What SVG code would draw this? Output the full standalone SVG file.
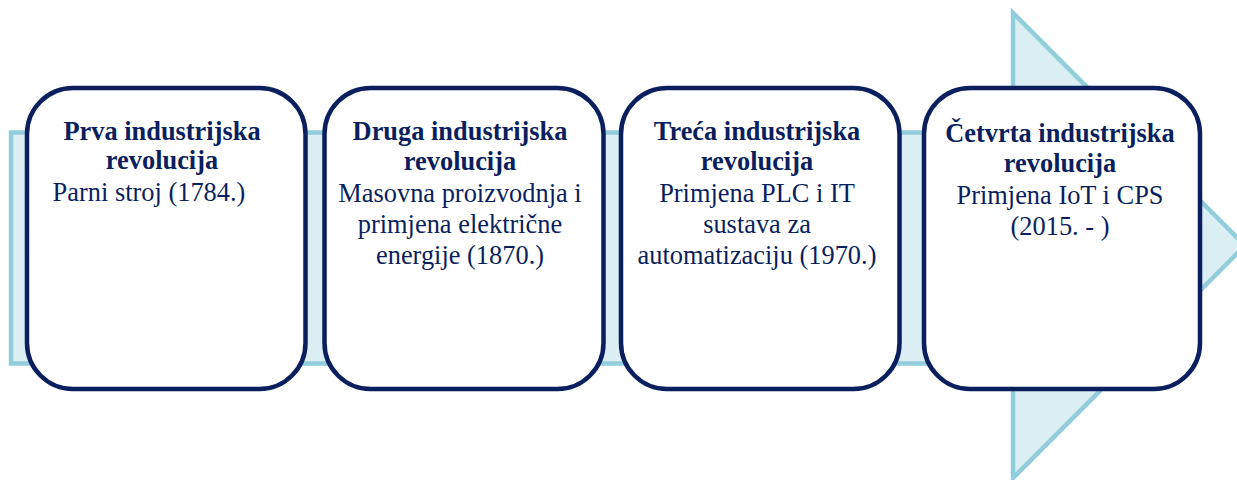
<svg xmlns="http://www.w3.org/2000/svg" width="1237" height="480" viewBox="0 0 1237 480">
<style>
.arrow{fill:#daeef3;stroke:#92cddc;stroke-width:4.5;stroke-linejoin:miter}
.box{fill:#ffffff;stroke:#0b1f5e;stroke-width:4.5}
text{font-family:"Liberation Serif","Times New Roman",serif;font-size:26.4px;fill:#0b1f5e;text-anchor:middle}
.t{font-weight:bold}
</style>
<rect width="1237" height="480" fill="#ffffff"/>
<g id="connectors">
<path class="arrow" d="M11,132.5 L1013,132.5 L1013,13 L1245,245.5 L1013,478 L1013,363.5 L11,363.5 Z"/>
</g>
<g id="node1">
<rect class="box" x="27" y="88" width="278.5" height="301" rx="46" ry="46"/>
<text class="t" x="162" y="140">Prva industrijska</text>
<text class="t" x="162" y="169">revolucija</text>
<text x="149" y="201">Parni stroj (1784.)</text>
</g>
<g id="node2">
<rect class="box" x="324.5" y="88" width="279" height="301" rx="46" ry="46"/>
<text class="t" x="460" y="140">Druga industrijska</text>
<text class="t" x="460" y="170">revolucija</text>
<text x="460" y="202">Masovna proizvodnja i</text>
<text x="460" y="233">primjena električne</text>
<text x="460" y="264">energije (1870.)</text>
</g>
<g id="node3">
<rect class="box" x="621" y="88" width="278.5" height="301" rx="46" ry="46"/>
<text class="t" x="757" y="140">Treća industrijska</text>
<text class="t" x="757" y="170">revolucija</text>
<text x="757" y="202">Primjena PLC i IT</text>
<text x="757" y="233">sustava za</text>
<text x="757" y="264">automatizaciju (1970.)</text>
</g>
<g id="node4">
<rect class="box" x="924" y="88" width="276" height="301" rx="46" ry="46"/>
<text class="t" x="1060" y="142">Četvrta industrijska</text>
<text class="t" x="1060" y="172">revolucija</text>
<text x="1060" y="204">Primjena IoT i CPS</text>
<text x="1060" y="235">(2015. - )</text>
</g>
</svg>
